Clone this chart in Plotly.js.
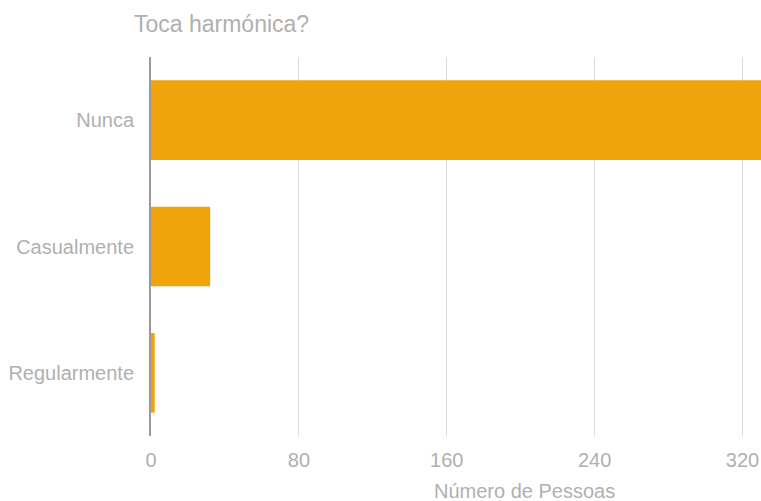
<!DOCTYPE html>
<html>
<head>
<meta charset="utf-8">
<script src="https://cdn.plot.ly/plotly-3.0.1.min.js"></script>
<style>html,body{margin:0;padding:0;background:#fff;}#chart{width:761px;height:501px;}</style>
</head>
<body>
<div id="chart"></div>
<script>
const categories = ["Nunca", "Casualmente", "Regularmente"];
const values = [345, 32, 2];
const xTicks = [0, 80, 160, 240, 320];
const xTitle = "Número de Pessoas";

const trace = {
  type: "bar",
  orientation: "h",
  y: categories,
  x: values,
  marker: {color: "#F0A30A"},
  hoverinfo: "x+y"
};

const layout = {
  width: 761,
  height: 501,
  margin: {l: 151, r: 0, t: 57, b: 65},
  paper_bgcolor: "#ffffff",
  plot_bgcolor: "#ffffff",
  font: {family: "Liberation Sans, Arial, sans-serif", color: "#b0b0b0", size: 20},
  title: {text: "Toca harmónica?", x: 134/761, xanchor: "left", y: 0.952, yanchor: "middle", font: {size: 23, color: "#b0b0b0"}},
  bargap: 0.37,
  xaxis: {
    range: [0, 330],
    tickvals: xTicks,
    ticktext: xTicks.map(String),
    showgrid: true,
    gridcolor: "#dddddd",
    gridwidth: 1,
    zeroline: false,
    showline: false,
    ticks: "",
    ticklen: 0,
    ticklabelstandoff: 10,
    tickfont: {size: 20, color: "#b0b0b0"},
    fixedrange: true
  },
  yaxis: {
    categoryorder: "array",
    categoryarray: categories.slice().reverse(),
    autorange: true,
    showline: true,
    linecolor: "#999999",
    linewidth: 2,
    ticks: "",
    ticklabelstandoff: 11,
    tickfont: {size: 20, color: "#b0b0b0"},
    showgrid: false,
    zeroline: false,
    fixedrange: true
  },
  annotations: [{
    text: xTitle,
    xref: "paper", yref: "paper",
    x: (524 - 151) / (761 - 151), y: 0,
    xanchor: "center", yanchor: "middle",
    yshift: -55,
    showarrow: false,
    font: {size: 20, color: "#b0b0b0"}
  }],
  showlegend: false
};

Plotly.newPlot("chart", [trace], layout, {displayModeBar: false, staticPlot: true});
</script>
</body>
</html>
